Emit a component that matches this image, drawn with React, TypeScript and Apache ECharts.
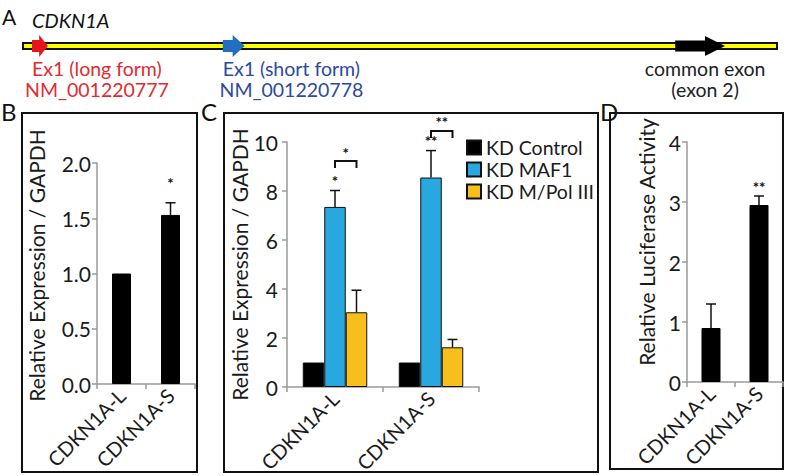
import React, { useEffect, useRef } from "react";
import * as echarts from "echarts";

// ---------- DATA ----------
// Panel A: gene schematic (relative genomic position, 0..100)
const GENE_SPAN = [0, 100];
const EXON_NAMES = ["Ex1 (long form)", "Ex1 (short form)", "common exon"];
const EXON_ACCESSIONS = ["NM_001220777", "NM_001220778", "(exon 2)"];
const EXON_STARTS = [1.2, 26.5, 86.5];
const EXON_ENDS = [3.3, 29.4, 93.1];

// Panel B
const B_CATEGORIES = ["CDKN1A-L", "CDKN1A-S"];
const B_VALUES = [1.0, 1.53];
const B_ERRORS = [0, 0.11];
const B_SIG = ["", "*"];
const B_TICKS = [0, 0.5, 1.0, 1.5, 2.0];

// Panel C
const C_CATEGORIES = ["CDKN1A-L", "CDKN1A-S"];
const C_SERIES = ["KD Control", "KD MAF1", "KD M/Pol III"];
const C_CONTROL = [1.0, 1.0];
const C_MAF1 = [7.35, 8.55];
const C_MPOL = [3.05, 1.62];
const C_CONTROL_ERR = [0, 0];
const C_MAF1_ERR = [0.67, 1.1];
const C_MPOL_ERR = [0.9, 0.32];
const C_MAF1_SIG = ["*", "**"];
const C_BRACKET_SIG = ["*", "**"]; // KD MAF1 vs KD M/Pol III
const C_BRACKET_Y = [9.22, 10.45];
const C_TICKS = [0, 2, 4, 6, 8, 10];

// Panel D
const D_CATEGORIES = ["CDKN1A-L", "CDKN1A-S"];
const D_VALUES = [0.9, 2.95];
const D_ERRORS = [0.4, 0.15];
const D_SIG = ["", "**"];
const D_TICKS = [0, 1, 2, 3, 4];

// ---------- STYLE ----------
const FONT = "Lato, 'Open Sans', sans-serif";
const TEXT = "#1a1a1a";
const AXIS = "#9a9a9a";
const EXON_COLORS = ["#e8141c", "#1f6fc2", "#000000"];
const EXON_TEXT_COLORS = ["#e42a2f", "#2c4a9c", "#222222"];
const C_COLORS = ["#000000", "#29a8e0", "#f6bf1c"];
const LABEL_SIZE = 19.5;

function measure(text: string, font: string) {
  const c = document.createElement("canvas").getContext("2d");
  if (!c) return text.length * 9;
  c.font = font;
  return c.measureText(text).width;
}

function starText(x: number, y: number, s: string) {
  return {
    type: "text",
    x,
    y,
    silent: true,
    style: {
      text: s,
      fontSize: 15,
      fontWeight: "bold",
      fontFamily: FONT,
      fill: "#111111",
      align: "center",
      verticalAlign: "bottom",
    },
  };
}

// error bar (upper half)
function errorSeries(gi: number, values: number[], errors: number[], offset: number) {
  return {
    type: "custom",
    xAxisIndex: gi,
    yAxisIndex: gi,
    z: 10,
    itemStyle: { color: "#111111" },
    data: values.map((v, i) => [i, v, errors[i]]),
    renderItem: (_params: any, api: any) => {
      const i = api.value(0);
      const v = api.value(1);
      const e = api.value(2);
      const base = api.coord([i, v]);
      const top = api.coord([i, v + e]);
      const x = base[0] + offset;
      if (!(e > 0)) return { type: "group", children: [] };
      return {
        type: "group",
        children: [
          {
            type: "polyline",
            shape: { points: [[x, base[1]], [x, top[1]]] },
            style: { stroke: "#111", lineWidth: 1.5, fill: "none" },
          },
          {
            type: "polyline",
            shape: { points: [[x - 5, top[1]], [x + 5, top[1]]] },
            style: { stroke: "#111", lineWidth: 1.5, fill: "none" },
          },
        ],
      };
    },
  };
}

// significance stars above the error bars (same structure as the bracket series)
function sigSeries(gi: number, values: number[], errors: number[], sig: string[], gap: number) {
  return {
    type: "custom",
    xAxisIndex: gi,
    yAxisIndex: gi,
    z: 12,
    itemStyle: { color: "#111111" },
    data: values.map((v, i) => [i, v + errors[i]]),
    renderItem: (params: any, api: any) => {
      const p = api.coord([api.value(0), api.value(1)]);
      const s = sig[params.dataIndex];
      return {
        type: "group",
        children: [
          {
            type: "polyline",
            shape: { points: [[p[0] - 1, p[1] - gap], [p[0] + 1, p[1] - gap]] },
            style: { stroke: "rgba(0,0,0,0)", lineWidth: 1, fill: "none" },
          },
          starText(p[0], p[1] - gap, s || ""),
        ],
      };
    },
  };
}

function catAxis(gi: number, data: string[]) {
  return {
    type: "category",
    gridIndex: gi,
    data,
    axisLine: { show: true, lineStyle: { color: AXIS, width: 1.5 } },
    axisTick: { show: true, length: 5, lineStyle: { color: AXIS, width: 1.5 } },
    axisLabel: {
      rotate: 45,
      fontSize: 20,
      fontFamily: FONT,
      color: TEXT,
      margin: 8,
      interval: 0,
    },
  };
}

function valAxis(
  gi: number,
  ticks: number[],
  name: string,
  nameGap: number,
  shiftUp: number,
  decimals: number,
  labelMargin: number
) {
  return {
    type: "value",
    gridIndex: gi,
    min: ticks[0],
    max: ticks[ticks.length - 1],
    interval: ticks[1] - ticks[0],
    name,
    nameLocation: "middle",
    nameGap,
    nameTextStyle: {
      fontSize: 21,
      fontFamily: FONT,
      color: TEXT,
      padding: [0, 0, 0, shiftUp * 2],
    },
    splitLine: { show: false },
    axisLine: { show: true, lineStyle: { color: AXIS, width: 1.5 } },
    axisTick: { show: true, length: 5, lineStyle: { color: AXIS, width: 1.5 } },
    axisLabel: {
      fontSize: 21,
      fontFamily: FONT,
      color: TEXT,
      margin: labelMargin,
      formatter: (v: number) => v.toFixed(decimals),
    },
  };
}

export default function App() {
  const ref = useRef<HTMLDivElement>(null);

  useEffect(() => {
    if (!ref.current) return;
    const chart = echarts.init(ref.current, undefined, {
      renderer: "svg",
      width: 785,
      height: 476,
    });

    const labelFont = `${LABEL_SIZE}px Lato`;
    const C_BAR_W = 21.5;

    const option: any = {
      animation: false,
      backgroundColor: "#ffffff",
      textStyle: { fontFamily: FONT },
      grid: [
        { left: 23, top: 31, width: 754, height: 30 },
        { left: 97, top: 163, width: 98, height: 221 },
        { left: 287, top: 142, width: 192, height: 245 },
        { left: 687, top: 142, width: 96, height: 240 },
      ],
      xAxis: [
        { type: "value", gridIndex: 0, min: GENE_SPAN[0], max: GENE_SPAN[1], show: false },
        catAxis(1, B_CATEGORIES),
        catAxis(2, C_CATEGORIES),
        catAxis(3, D_CATEGORIES),
      ],
      yAxis: [
        { type: "value", gridIndex: 0, min: 0, max: 1, show: false },
        valAxis(1, B_TICKS, "Relative Expression / GAPDH", 50, 8, 1, 6),
        valAxis(2, C_TICKS, "Relative Expression / GAPDH", 32, 0, 0, 9),
        valAxis(3, D_TICKS, "Relative Luciferase Activity", 30, 20, 0, 6),
      ],
      legend: {
        data: C_SERIES,
        orient: "vertical",
        left: 461,
        top: 132,
        icon: "rect",
        itemWidth: 14,
        itemHeight: 14,
        itemGap: 1,
        textStyle: { fontSize: 19.5, fontFamily: FONT, color: TEXT, lineHeight: 21 },
      },
      graphic: [
        // panel frames
        { type: "rect", shape: { x: 22, y: 113, width: 175, height: 359 }, style: { fill: "none", stroke: "#111", lineWidth: 2 } },
        { type: "rect", shape: { x: 224, y: 113, width: 374, height: 359 }, style: { fill: "none", stroke: "#111", lineWidth: 2 } },
        { type: "rect", shape: { x: 610, y: 113, width: 173, height: 356 }, style: { fill: "none", stroke: "#111", lineWidth: 2 } },
        // panel letters
        { type: "text", left: 2, top: 6, style: { text: "A", fontSize: 21, fontFamily: FONT, fill: "#111" } },
        { type: "text", left: 1, top: 99, style: { text: "B", fontSize: 24, fontFamily: FONT, fill: "#111" } },
        { type: "text", left: 201, top: 99, style: { text: "C", fontSize: 24, fontFamily: FONT, fill: "#111" } },
        { type: "text", left: 600, top: 99, style: { text: "D", fontSize: 24, fontFamily: FONT, fill: "#111" } },
        { type: "text", left: 32, top: 10, style: { text: "CDKN1A", fontSize: 20, fontStyle: "italic", fontFamily: FONT, fill: "#111" } },
      ],
      series: [
        // Panel A: gene line
        {
          type: "custom",
          xAxisIndex: 0,
          yAxisIndex: 0,
          data: [[GENE_SPAN[0], GENE_SPAN[1]]],
          renderItem: (_p: any, api: any) => {
            const a = api.coord([api.value(0), 0.5]);
            const b = api.coord([api.value(1), 0.5]);
            return {
              type: "rect",
              shape: { x: a[0], y: a[1] - 3, width: b[0] - a[0], height: 6 },
              style: { fill: "#ffff00", stroke: "#111", lineWidth: 2 },
            };
          },
        },
        // Panel A: exon arrows + labels
        {
          type: "custom",
          xAxisIndex: 0,
          yAxisIndex: 0,
          z: 5,
          data: EXON_STARTS.map((s, i) => [s, EXON_ENDS[i]]),
          renderItem: (params: any, api: any) => {
            const idx = params.dataIndex;
            const a = api.coord([api.value(0), 0.5]);
            const b = api.coord([api.value(1), 0.5]);
            const cy = a[1];
            const len = b[0] - a[0];
            const head = Math.min(20, len * 0.55);
            const sh = idx === 2 ? 5.5 : 6;
            const hh = idx === 2 ? 10 : 11;
            const hx = b[0] - head;
            const color = EXON_COLORS[idx];
            const name = EXON_NAMES[idx];
            const acc = EXON_ACCESSIONS[idx];
            const common = idx === EXON_NAMES.length - 1;
            const tx = common ? (a[0] + b[0]) / 2 + 5 : a[0] + measure(name, labelFont) / 2;
            const txtStyle = (t: string) => ({
              text: t,
              fontSize: LABEL_SIZE,
              fontFamily: FONT,
              fill: EXON_TEXT_COLORS[idx],
              align: "center",
              verticalAlign: "middle",
            });
            return {
              type: "group",
              children: [
                {
                  type: "polygon",
                  shape: {
                    points: [
                      [a[0], cy - sh],
                      [hx, cy - sh],
                      [hx, cy - hh],
                      [b[0], cy],
                      [hx, cy + hh],
                      [hx, cy + sh],
                      [a[0], cy + sh],
                    ],
                  },
                  style: { fill: color },
                },
                { type: "text", x: tx, y: 68, style: txtStyle(name) },
                { type: "text", x: tx, y: 89, style: txtStyle(acc) },
              ],
            };
          },
        },
        // Panel B
        {
          type: "bar",
          xAxisIndex: 1,
          yAxisIndex: 1,
          data: B_VALUES,
          barWidth: 19,
          itemStyle: { color: "#000", borderColor: "#000", borderWidth: 1 },
        },
        errorSeries(1, B_VALUES, B_ERRORS, 0),
        sigSeries(1, B_VALUES, B_ERRORS, B_SIG, 12),
        // Panel C
        {
          type: "bar",
          name: C_SERIES[0],
          xAxisIndex: 2,
          yAxisIndex: 2,
          data: C_CONTROL,
          barWidth: C_BAR_W,
          barGap: "0%",
          itemStyle: { color: C_COLORS[0], borderColor: "#111", borderWidth: 1 },
        },
        {
          type: "bar",
          name: C_SERIES[1],
          xAxisIndex: 2,
          yAxisIndex: 2,
          data: C_MAF1,
          barWidth: C_BAR_W,
          barGap: "0%",
          itemStyle: { color: C_COLORS[1], borderColor: "#111", borderWidth: 1 },
        },
        {
          type: "bar",
          name: C_SERIES[2],
          xAxisIndex: 2,
          yAxisIndex: 2,
          data: C_MPOL,
          barWidth: C_BAR_W,
          barGap: "0%",
          itemStyle: { color: C_COLORS[2], borderColor: "#111", borderWidth: 1 },
        },
        errorSeries(2, C_CONTROL, C_CONTROL_ERR, -C_BAR_W),
        errorSeries(2, C_MAF1, C_MAF1_ERR, 0),
        errorSeries(2, C_MPOL, C_MPOL_ERR, C_BAR_W),
        sigSeries(2, C_MAF1, C_MAF1_ERR, C_MAF1_SIG, 2),
        {
          type: "custom",
          xAxisIndex: 2,
          yAxisIndex: 2,
          z: 10,
          itemStyle: { color: "#111111" },
          data: C_BRACKET_Y.map((y, i) => [i, y]),
          renderItem: (params: any, api: any) => {
            const p = api.coord([api.value(0), api.value(1)]);
            const x1 = p[0];
            const x2 = p[0] + C_BAR_W;
            const y = p[1];
            return {
              type: "group",
              children: [
                {
                  type: "polyline",
                  shape: { points: [[x1, y + 7], [x1, y], [x2, y], [x2, y + 7]] },
                  style: { stroke: "#111", lineWidth: 2, fill: "none" },
                },
                starText((x1 + x2) / 2, y - 1, C_BRACKET_SIG[params.dataIndex]),
              ],
            };
          },
        },
        // Panel D
        {
          type: "bar",
          xAxisIndex: 3,
          yAxisIndex: 3,
          data: D_VALUES,
          barWidth: 19,
          itemStyle: { color: "#000", borderColor: "#000", borderWidth: 1 },
        },
        errorSeries(3, D_VALUES, D_ERRORS, 0),
        sigSeries(3, D_VALUES, D_ERRORS, D_SIG, 2),
      ],
    };

    chart.setOption(option);
    return () => chart.dispose();
  }, []);

  return (
    <div
      ref={ref}
      style={{ position: "absolute", left: 0, top: 0, width: 785, height: 476, background: "#fff" }}
    />
  );
}
